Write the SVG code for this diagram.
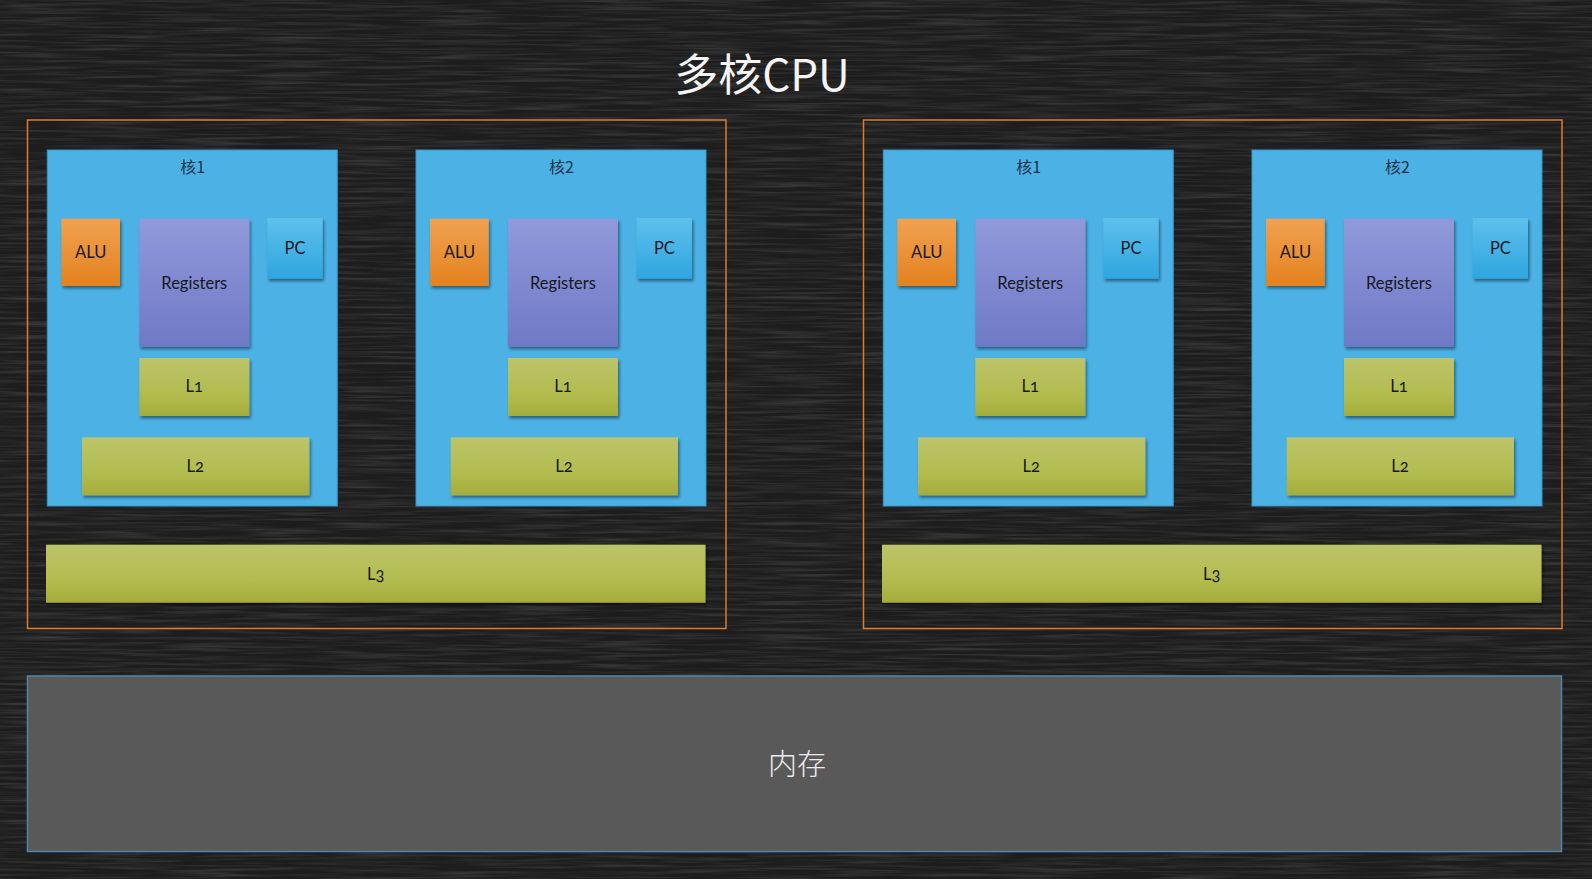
<svg xmlns="http://www.w3.org/2000/svg" width="1592" height="879" viewBox="0 0 1592 879">
<defs>
<style>
.frame{fill:none;stroke:#dd7b30;stroke-width:1.5}
.core{fill:#4cb2e6;stroke:#3a93c6;stroke-width:1}
.alu{fill:url(#gAlu);filter:url(#sh)}
.reg{fill:url(#gReg);filter:url(#sh)}
.pc{fill:url(#gPc);filter:url(#sh)}
.cache{fill:url(#gCache);filter:url(#sh)}
.lbl{font-family:Lato,"Open Sans","Noto Sans",sans-serif;font-size:16.5px;fill:#16181c;text-anchor:middle;font-variant-numeric:oldstyle-nums}
.clbl{font-family:"Noto Sans CJK SC","Noto Sans",sans-serif;font-size:16px;fill:#1d3348;text-anchor:middle}
.title{font-family:"Noto Sans CJK SC","Noto Sans",sans-serif;font-size:44px;fill:#f4f4f4;text-anchor:middle}
.mem{fill:#595959;stroke:#4f86aa;stroke-width:1.5}
.memlbl{font-family:"Noto Sans CJK SC",sans-serif;font-size:29px;font-weight:300;fill:#ececec;text-anchor:middle}
</style>
<linearGradient id="gAlu" x1="0" y1="0" x2="0" y2="1"><stop offset="0" stop-color="#f1a151"/><stop offset="1" stop-color="#e3821f"/></linearGradient>
<linearGradient id="gReg" x1="0" y1="0" x2="0" y2="1"><stop offset="0" stop-color="#9199da"/><stop offset="1" stop-color="#6e79c6"/></linearGradient>
<linearGradient id="gPc" x1="0" y1="0" x2="0" y2="1"><stop offset="0" stop-color="#5fc0ec"/><stop offset="1" stop-color="#2ea5df"/></linearGradient>
<linearGradient id="gCache" x1="0" y1="0" x2="0" y2="1"><stop offset="0" stop-color="#bcc46a"/><stop offset="0.6" stop-color="#b3bc4f"/><stop offset="1" stop-color="#a4ad3b"/></linearGradient>
<filter id="sh" x="-10%" y="-10%" width="125%" height="130%"><feDropShadow dx="1.5" dy="2.5" stdDeviation="1.8" flood-color="#000" flood-opacity="0.45"/></filter>
<filter id="chalk" x="0" y="0" width="100%" height="100%">
<feTurbulence type="fractalNoise" baseFrequency="0.012 0.35" numOctaves="3" seed="7"/>
<feColorMatrix type="matrix" values="0 0 0 0 0.6  0 0 0 0 0.6  0 0 0 0 0.6  1 0 0 0 -0.4"/>
</filter>
</defs>
<rect x="0" y="0" width="1592" height="879" fill="#1d1d1d"/>
<rect x="0" y="0" width="1592" height="879" filter="url(#chalk)" opacity="0.35"/>

<g id="title"><text class="title" x="762" y="91">多核CPU</text></g>

<g id="connectors"></g>

<!-- CPU left -->
<g id="cpu1">
<rect class="frame" x="27.5" y="120" width="698.5" height="508.5"/>
<g id="cpu1-core1">
<rect class="core" x="47.3" y="150" width="290" height="356"/>
<text class="clbl" x="192.7" y="173">核1</text>
<g id="cpu1-core1-alu"><rect class="alu" x="61.3" y="218.7" width="58.7" height="67.3"/><text class="lbl" x="90.7" y="258">ALU</text></g>
<g id="cpu1-core1-reg"><rect class="reg" x="139.3" y="218.7" width="110" height="128"/><text class="lbl" x="194.3" y="289">Registers</text></g>
<g id="cpu1-core1-pc"><rect class="pc" x="267.3" y="218" width="55.3" height="60.7"/><text class="lbl" x="295" y="254">PC</text></g>
<g id="cpu1-core1-l1"><rect class="cache" x="139.3" y="358" width="110" height="58"/><text class="lbl" x="194.3" y="392">L1</text></g>
<g id="cpu1-core1-l2"><rect class="cache" x="82" y="437.3" width="227.3" height="58"/><text class="lbl" x="195.3" y="471.5">L2</text></g>
</g>
<g id="cpu1-core2">
<rect class="core" x="416" y="150" width="290" height="356"/>
<text class="clbl" x="561.4" y="173">核2</text>
<g id="cpu1-core2-alu"><rect class="alu" x="430" y="218.7" width="58.7" height="67.3"/><text class="lbl" x="459.4" y="258">ALU</text></g>
<g id="cpu1-core2-reg"><rect class="reg" x="508" y="218.7" width="110" height="128"/><text class="lbl" x="563" y="289">Registers</text></g>
<g id="cpu1-core2-pc"><rect class="pc" x="636.7" y="218" width="55.3" height="60.7"/><text class="lbl" x="664.4" y="254">PC</text></g>
<g id="cpu1-core2-l1"><rect class="cache" x="508" y="358" width="110" height="58"/><text class="lbl" x="563" y="392">L1</text></g>
<g id="cpu1-core2-l2"><rect class="cache" x="450.7" y="437.3" width="227.3" height="58"/><text class="lbl" x="564" y="471.5">L2</text></g>
</g>
<g id="cpu1-l3"><rect class="cache" x="46" y="544.7" width="659.5" height="58"/><text class="lbl" x="375.7" y="580">L3</text></g>
</g>

<!-- CPU right -->
<g id="cpu2">
<rect class="frame" x="863.5" y="120" width="698.5" height="508.5"/>
<g id="cpu2-core1">
<rect class="core" x="883.3" y="150" width="290" height="356"/>
<text class="clbl" x="1028.7" y="173">核1</text>
<g id="cpu2-core1-alu"><rect class="alu" x="897.3" y="218.7" width="58.7" height="67.3"/><text class="lbl" x="926.7" y="258">ALU</text></g>
<g id="cpu2-core1-reg"><rect class="reg" x="975.3" y="218.7" width="110" height="128"/><text class="lbl" x="1030.3" y="289">Registers</text></g>
<g id="cpu2-core1-pc"><rect class="pc" x="1103.3" y="218" width="55.3" height="60.7"/><text class="lbl" x="1131" y="254">PC</text></g>
<g id="cpu2-core1-l1"><rect class="cache" x="975.3" y="358" width="110" height="58"/><text class="lbl" x="1030.3" y="392">L1</text></g>
<g id="cpu2-core1-l2"><rect class="cache" x="918" y="437.3" width="227.3" height="58"/><text class="lbl" x="1031.3" y="471.5">L2</text></g>
</g>
<g id="cpu2-core2">
<rect class="core" x="1252" y="150" width="290" height="356"/>
<text class="clbl" x="1397.4" y="173">核2</text>
<g id="cpu2-core2-alu"><rect class="alu" x="1266" y="218.7" width="58.7" height="67.3"/><text class="lbl" x="1295.4" y="258">ALU</text></g>
<g id="cpu2-core2-reg"><rect class="reg" x="1344" y="218.7" width="110" height="128"/><text class="lbl" x="1399" y="289">Registers</text></g>
<g id="cpu2-core2-pc"><rect class="pc" x="1472.7" y="218" width="55.3" height="60.7"/><text class="lbl" x="1500.4" y="254">PC</text></g>
<g id="cpu2-core2-l1"><rect class="cache" x="1344" y="358" width="110" height="58"/><text class="lbl" x="1399" y="392">L1</text></g>
<g id="cpu2-core2-l2"><rect class="cache" x="1286.7" y="437.3" width="227.3" height="58"/><text class="lbl" x="1400" y="471.5">L2</text></g>
</g>
<g id="cpu2-l3"><rect class="cache" x="882" y="544.7" width="659.5" height="58"/><text class="lbl" x="1211.7" y="580">L3</text></g>
</g>

<g id="memory">
<rect class="mem" x="27.5" y="676" width="1534" height="175.5"/>
<text class="memlbl" x="797" y="775">内存</text>
</g>
</svg>
